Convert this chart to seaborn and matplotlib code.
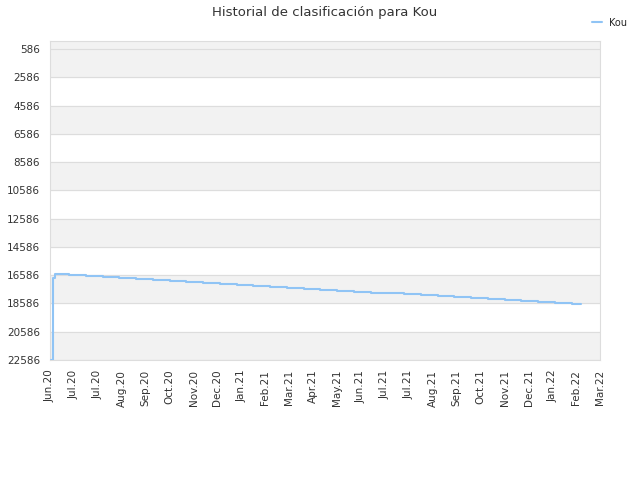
import matplotlib
matplotlib.use("Agg")
import matplotlib.pyplot as plt
import seaborn as sns
import pandas as pd

# etiquetas del eje x (una por marca)
etiquetas = ["Jun.20", "Jul.20", "Jul.20", "Aug.20", "Sep.20", "Oct.20", "Nov.20", "Dec.20",
             "Jan.21", "Feb.21", "Mar.21", "Apr.21", "May.21", "Jun.21", "Jul.21", "Jul.21",
             "Aug.21", "Sep.21", "Oct.21", "Nov.21", "Dec.21", "Jan.22", "Feb.22", "Mar.22"]

# posicion (en marcas) de cada cambio de clasificacion y su valor
pos = [0.05, 0.12, 0.2, 0.8, 1.5, 2.2, 2.9, 3.6, 4.3, 5.0, 5.7, 6.4, 7.1, 7.8, 8.5, 9.2,
       9.9, 10.6, 11.3, 12.0, 12.7, 13.4, 14.1, 14.8, 15.5, 16.2, 16.9, 17.6, 18.3, 19.0,
       19.7, 20.4, 21.1, 21.8, 22.2]
rango = [22586, 16800, 16480, 16550, 16620, 16690, 16760, 16830, 16900, 16970, 17040,
         17110, 17180, 17250, 17320, 17390, 17460, 17530, 17600, 17670, 17740, 17810,
         17880, 17950, 18020, 18090, 18160, 18230, 18300, 18370, 18440, 18510, 18580,
         18650, 18650]

df = pd.DataFrame({"x": pos, "rango": rango})

sns.set_style("white")
fig, ax = plt.subplots(figsize=(6.4, 4.8), dpi=100)
fig.subplots_adjust(left=0.078, right=0.938, top=0.915, bottom=0.25)

yt = list(range(586, 22587, 2000))
for i, y0 in enumerate(range(-1414, 22587, 2000)):
    if i % 2 == 1:
        ax.axhspan(y0, y0 + 2000, color="#f2f2f2", zorder=0)
ax.axhspan(-1414, 586, color="#f2f2f2", zorder=0)
for y in yt:
    ax.axhline(y, color="#dddddd", lw=0.8, zorder=1)

sns.lineplot(data=df, x="x", y="rango", drawstyle="steps-post", color="#90c4f5",
             lw=1.5, ax=ax, label="Kou", zorder=3)

ax.set_ylim(22586, 0)
ax.set_xlim(0, 23)
ax.set_yticks(yt)
ax.set_yticklabels([str(v) for v in yt], fontsize=7.5, color="#333333")
ax.set_xticks(range(len(etiquetas)))
ax.set_xticklabels(etiquetas, rotation=90, fontsize=7.5, color="#333333")
ax.set_xlabel("")
ax.set_ylabel("")
for s in ax.spines.values():
    s.set_color("#dddddd")
ax.set_title("Historial de clasificación para Kou", fontsize=9.5, color="#333333", pad=18)
ax.legend(loc="upper right", bbox_to_anchor=(1.065, 1.1), frameon=False, fontsize=7,
          handlelength=1)
fig.savefig("out.png")
